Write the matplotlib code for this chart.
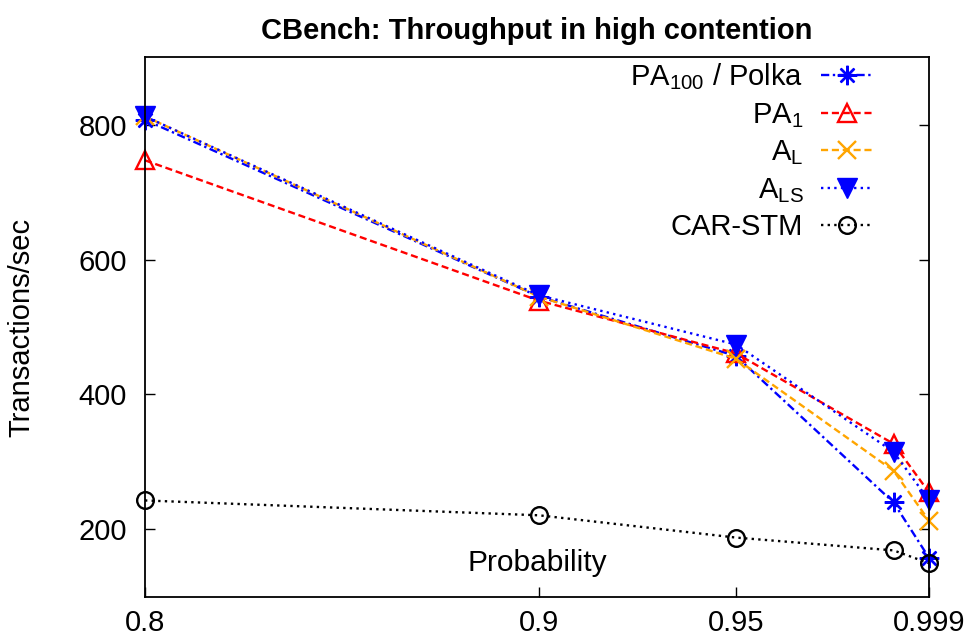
import matplotlib
matplotlib.use('Agg')
import matplotlib.pyplot as plt

plt.rcParams['font.family'] = ['Liberation Sans', 'DejaVu Sans']
plt.rcParams['mathtext.fontset'] = 'custom'
plt.rcParams['mathtext.rm'] = 'Liberation Sans'

# data
probability = [0.8, 0.9, 0.95, 0.99, 0.999]
pa100_polka = [807, 545, 457, 240, 158]
pa1 = [747, 539, 461, 327, 255]
a_l = [812, 545, 453, 287, 213]
a_ls = [812, 547, 474, 315, 243]
car_stm = [243, 221, 188, 169, 150]
xtick_values = [0.8, 0.9, 0.95, 0.999]
xtick_labels = ['0.8', '0.9', '0.95', '0.999']
ytick_values = [200, 400, 600, 800]

fig = plt.figure(figsize=(9.73, 6.41), dpi=100)
ax = fig.add_axes([0.149, 0.0687, 0.8058, 0.8423])

lw = 1.7
ax.plot(probability, pa100_polka, color='#0000ff', lw=lw, linestyle=(0, (3.5, 1.5, 1, 1.5)),
        marker=(8, 2, 0), markersize=14, markeredgewidth=lw, clip_on=False,
        label=r'PA$_\mathregular{100}$ / Polka')
ax.plot(probability, pa1, color='#ff0000', lw=lw, linestyle=(0, (3, 1.6)),
        marker='^', markersize=13, markerfacecolor='none', markeredgewidth=lw, clip_on=False,
        label=r'PA$_\mathregular{1}$')
ax.plot(probability, a_l, color='#ffa500', lw=lw, linestyle=(0, (3, 1.6)),
        marker='x', markersize=13, markeredgewidth=lw, clip_on=False,
        label=r'A$_\mathregular{L}$')
ax.plot(probability, a_ls, color='#0000ff', lw=lw, linestyle=(0, (1, 1.8)),
        marker='v', markersize=14, clip_on=False, label=r'A$_\mathregular{LS}$')
ax.plot(probability, car_stm, color='black', lw=lw, linestyle=(0, (1, 1.8)),
        marker='o', markersize=12, markerfacecolor='none', markeredgewidth=lw, clip_on=False,
        label='CAR-STM')

ax.set_xlim(0.8, 0.999)
ax.set_ylim(100, 900)
ax.set_xticks(xtick_values)
ax.set_xticklabels(xtick_labels)
ax.set_yticks(ytick_values)
ax.tick_params(axis='both', direction='in', length=7, width=1, labelsize=21)
ax.tick_params(axis='y', right=True, pad=13)
ax.tick_params(axis='x', pad=9)
for s in ax.spines.values():
    s.set_linewidth(1.3)

ax.set_title('CBench: Throughput in high contention', fontsize=21, fontweight='bold', pad=13)
ax.set_xlabel('Probability', fontsize=21.5, va='center')
ax.xaxis.set_label_coords(0.5, 0.063)
ax.set_ylabel('Transactions/sec', fontsize=21, va='center')
ax.yaxis.set_label_coords(-0.158, 0.5)

ax.legend(loc='upper right', bbox_to_anchor=(0.955, 1.03), frameon=False, markerfirst=False,
          fontsize=21, handlelength=1.8, handletextpad=0.6, labelspacing=0.3,
          borderaxespad=0.3)

fig.savefig('out.png', dpi=100)
